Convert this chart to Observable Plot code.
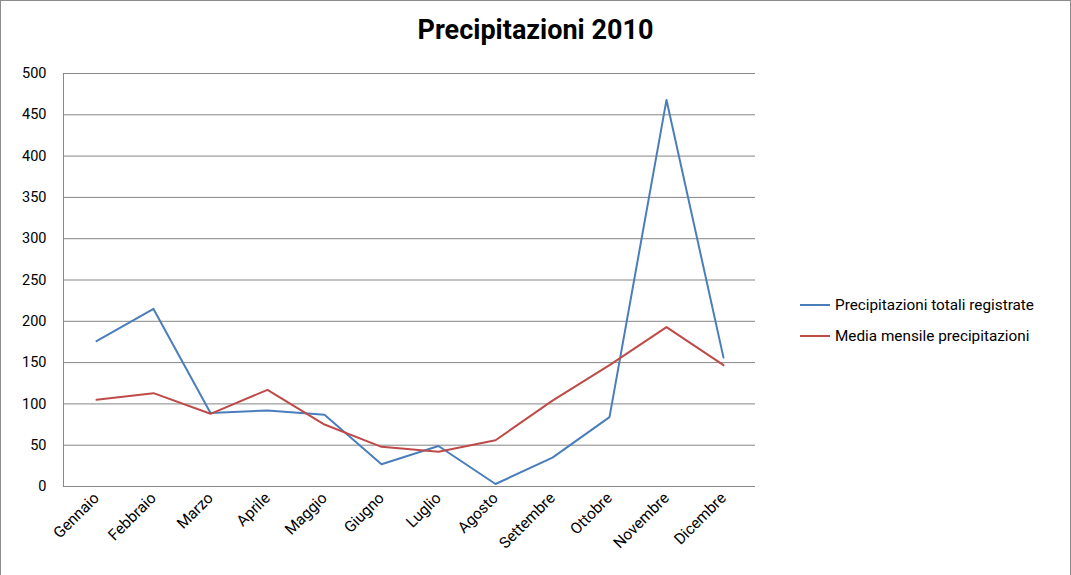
<!DOCTYPE html>
<html><head><meta charset="utf-8">
<script src="https://cdn.jsdelivr.net/npm/d3@7"></script>
<script src="https://cdn.jsdelivr.net/npm/@observablehq/plot@0.6"></script>
<style>
body{margin:0;background:#fff;font-family:Roboto,"Open Sans",sans-serif;}
#wrap{position:relative;width:1071px;height:575px;overflow:hidden;}
#frame{position:absolute;left:0;top:0;width:1071px;height:580px;box-sizing:border-box;border:1px solid #8c8c8c;pointer-events:none;}
#title{position:absolute;left:0;width:1071px;top:14px;text-align:center;font-size:27px;font-weight:bold;color:#000;}
#legend{position:absolute;left:800px;top:289px;font-size:15.3px;color:#000;}
.li{display:flex;align-items:center;height:31px;}
.sw{width:30px;height:2px;margin-right:5px;}
</style></head>
<body>
<div id="wrap"><div id="chart"></div>
<div id="title">Precipitazioni 2010</div>
<div id="legend"></div>
<div id="frame"></div></div>
<script>
const months = ["Gennaio","Febbraio","Marzo","Aprile","Maggio","Giugno","Luglio","Agosto","Settembre","Ottobre","Novembre","Dicembre"];
const totali = [176, 215, 89, 92, 87, 27, 49, 3, 35, 84, 468, 156];
const media = [105, 113, 88, 117, 75, 48, 42, 56, 104, 147, 193, 147];
const seriesNames = ["Precipitazioni totali registrate", "Media mensile precipitazioni"];
const colors = ["#4A7EBB", "#BE4B48"];
const yTicks = [0,50,100,150,200,250,300,350,400,450,500];

const data = [];
months.forEach((m,i)=>{
  data.push({month:m, value:totali[i], series:seriesNames[0]});
  data.push({month:m, value:media[i], series:seriesNames[1]});
});

const chart = Plot.plot({
  width:1071, height:575,
  marginLeft:63, marginRight:316, marginTop:73, marginBottom:89,
  style:{fontFamily:"Roboto, 'Open Sans', sans-serif", fontSize:"14px", color:"#000", background:"transparent"},
  x:{type:"point", domain:months, padding:0.5},
  y:{domain:[0,500]},
  color:{domain:seriesNames, range:colors},
  marks:[
    Plot.ruleY(yTicks, {stroke:"#868686", strokeWidth:1}),
    Plot.frame({anchor:"left", stroke:"#868686"}),
    Plot.axisY({ticks:yTicks, tickSize:0, tickPadding:17, fontSize:14.5, label:null}),
    Plot.axisX({tickSize:0, tickRotate:-45, tickPadding:9, fontSize:15.5, label:null}),
    Plot.line(data, {x:"month", y:"value", z:"series", stroke:"series", strokeWidth:2})
  ]
});
document.getElementById("chart").appendChild(chart);

const lg = document.getElementById("legend");
seriesNames.forEach((s,i)=>{
  const d = document.createElement("div"); d.className="li";
  d.innerHTML = `<span class="sw" style="background:${colors[i]}"></span><span>${s}</span>`;
  lg.appendChild(d);
});
</script>
</body></html>
